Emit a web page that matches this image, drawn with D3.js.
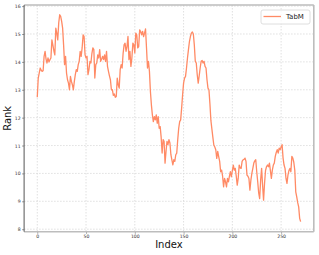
<!DOCTYPE html>
<html><head><meta charset="utf-8">
<script src="https://cdn.jsdelivr.net/npm/d3@7"></script>
<style>body{margin:0;background:#fff}svg{display:block;font-family:"DejaVu Sans",sans-serif}</style>
</head><body><svg id="c" width="319" height="255"></svg>
<script>
const seriesName = "TabM";
const rank = [12.73,13.42,13.6,13.78,13.7,13.66,13.68,14.2,14.38,14.1,
13.96,14.14,14.0,14.08,14.14,14.79,14.6,14.4,14.25,15.21,
15.03,14.79,15.4,15.69,15.63,15.45,15.21,14.6,13.9,14.2,
13.6,13.36,13.24,13.0,13.48,13.3,13.18,13.0,13.3,13.54,
13.72,13.66,13.9,14.02,14.38,14.2,14.5,14.97,14.91,14.25,
14.14,14.2,13.54,13.72,14.02,13.96,14.3,14.5,14.44,13.42,
13.9,13.96,14.25,14.14,14.44,14.02,14.1,14.2,14.08,14.25,
14.02,14.38,13.84,13.66,13.5,13.36,13.0,13.0,12.8,12.85,
12.73,12.76,13.42,13.18,13.06,13.72,13.9,13.78,14.3,14.61,
14.67,14.38,14.55,14.91,14.08,14.38,13.84,14.14,14.67,14.61,
14.32,15.03,14.97,14.5,14.55,15.15,15.09,14.97,15.09,14.91,
15.03,15.18,14.5,13.78,14.02,13.66,12.94,12.46,12.1,11.86,
12.04,11.92,12.1,11.8,12.04,11.62,11.68,11.3,10.73,11.21,
11.15,10.37,10.79,11.15,11.03,11.21,11.09,10.67,10.49,10.31,
10.49,10.43,10.67,10.73,11.21,11.62,11.86,11.92,12.34,12.82,
13.24,13.42,13.48,13.78,14.14,14.44,14.73,14.91,15.03,15.07,
15.0,14.61,14.02,13.96,13.54,13.24,13.5,13.78,14.02,14.05,
13.96,14.02,13.84,13.78,13.36,13.06,13.0,12.5,11.9,11.6,
11.3,11.02,10.95,10.85,10.54,10.79,10.6,10.43,10.06,10.12,
9.9,9.52,9.82,9.7,9.52,9.82,9.7,9.9,10.06,9.88,
10.1,10.3,10.12,10.18,9.9,9.58,9.82,10.3,10.2,10.18,
10.43,10.49,10.5,10.55,10.43,9.94,9.9,9.82,9.4,9.76,
10.0,10.18,10.37,10.45,10.49,10.06,9.7,9.3,9.1,9.76,
10.18,9.58,9.04,9.64,10.1,10.24,10.3,10.24,10.37,10.1,
9.82,10.12,10.3,10.37,10.61,10.75,10.85,10.73,10.91,10.85,
10.95,11.03,10.55,10.3,10.18,9.82,9.64,9.94,10.1,10.18,
10.06,10.61,10.55,10.4,10.12,9.34,9.16,8.95,8.8,8.39,8.27];
const xTicks = [0,50,100,150,200,250];
const yTicks = [8,9,10,11,12,13,14,15,16];
const xLabel = "Index", yLabel = "Rank";

const svg = d3.select("#c");
const L = 24.1, R = 313.8, T = 5, B = 231.7;
const x = d3.scaleLinear().domain([-13.5, 283.5]).range([L, R]);
const y = d3.scaleLinear().domain([7.91, 16.04]).range([B, T]);

// grid
const g = svg.append("g");
g.selectAll(".gx").data(xTicks).join("line")
  .attr("x1", d => x(d)).attr("x2", d => x(d)).attr("y1", T).attr("y2", B)
  .attr("stroke", "#d8d8d8").attr("stroke-width", 0.8).attr("stroke-dasharray", "1.5,1.5");
g.selectAll(".gy").data(yTicks).join("line")
  .attr("y1", d => y(d)).attr("y2", d => y(d)).attr("x1", L).attr("x2", R)
  .attr("stroke", "#d8d8d8").attr("stroke-width", 0.8).attr("stroke-dasharray", "1.5,1.5");

// line
const line = d3.line().x((d, i) => x(i)).y(d => y(d));
svg.append("path").datum(rank).attr("d", line)
  .attr("fill", "none").attr("stroke", "#ff8a65").attr("stroke-width", 1.3)
  .attr("stroke-linejoin", "round");

// axes
const xa = svg.append("g").attr("transform", `translate(0,${B})`)
  .call(d3.axisBottom(x).tickValues(xTicks).tickSize(2).tickPadding(1.5));
const ya = svg.append("g").attr("transform", `translate(${L},0)`)
  .call(d3.axisLeft(y).tickValues(yTicks).tickSize(2).tickPadding(1.5));
[xa, ya].forEach(a => {
  a.select(".domain").remove();
  a.selectAll("text").attr("font-size", 4.6).attr("fill", "#333").attr("font-family", "DejaVu Sans");
  a.selectAll("line").attr("stroke", "#555").attr("stroke-width", 0.6);
});

// spines
svg.append("line").attr("x1", L).attr("x2", R).attr("y1", T).attr("y2", T).attr("stroke", "#bdbdbd").attr("stroke-width", 1.6);
svg.append("line").attr("x1", R).attr("x2", R).attr("y1", T).attr("y2", B).attr("stroke", "#bdbdbd").attr("stroke-width", 1.6);
svg.append("line").attr("x1", L).attr("x2", R).attr("y1", B).attr("y2", B).attr("stroke", "#bdbdbd").attr("stroke-width", 1.6);
svg.append("line").attr("x1", L).attr("x2", L).attr("y1", T).attr("y2", B).attr("stroke", "#555").attr("stroke-width", 1);

// labels
svg.append("text").attr("x", (L + R) / 2).attr("y", 248).attr("text-anchor", "middle")
  .attr("font-size", 10).attr("fill", "#111").text(xLabel);
svg.append("text").attr("transform", `translate(11,${(T + B) / 2}) rotate(-90)`)
  .attr("text-anchor", "middle").attr("font-size", 10).attr("fill", "#111").text(yLabel);

// legend
const lg = svg.append("g");
lg.append("rect").attr("x", 261).attr("y", 10).attr("width", 49).attr("height", 14).attr("rx", 2)
  .attr("fill", "#fff").attr("fill-opacity", 0.8).attr("stroke", "#d6d6d6").attr("stroke-width", 0.8);
lg.append("line").attr("x1", 263.5).attr("x2", 281).attr("y1", 16.5).attr("y2", 16.5)
  .attr("stroke", "#ff8a65").attr("stroke-width", 1.3);
lg.append("text").attr("x", 286).attr("y", 19.3).attr("font-size", 7).attr("fill", "#222").text(seriesName);
</script></body></html>
